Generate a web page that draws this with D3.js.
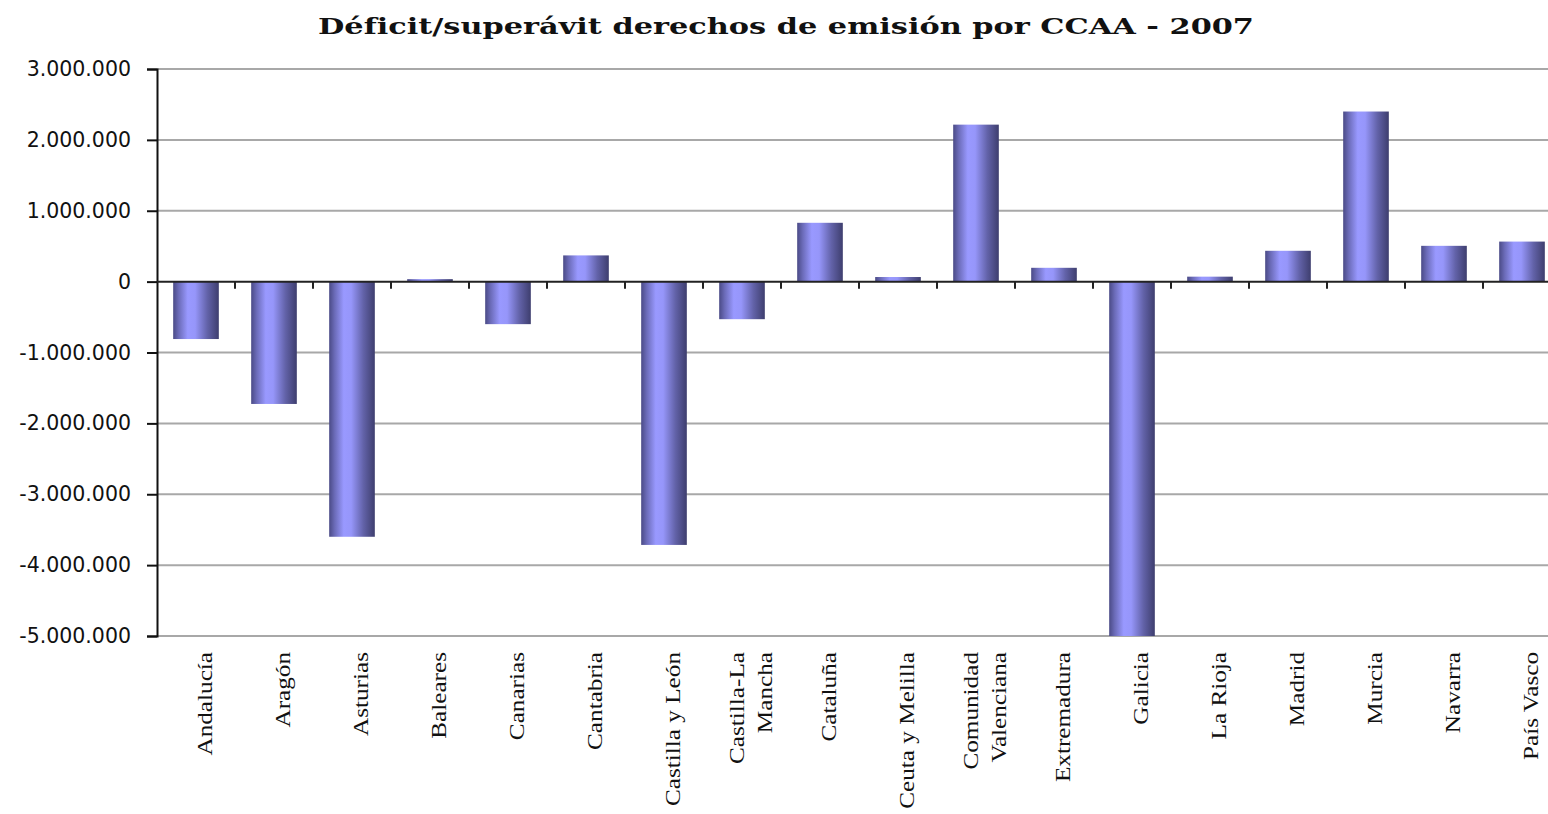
<!DOCTYPE html>
<html lang="es">
<head>
<meta charset="UTF-8">
<title>Déficit/superávit derechos de emisión por CCAA - 2007</title>
<style>
  body { margin: 0; background: #fff; }
  svg { display: block; }
</style>
</head>
<body>
<script src="https://d3js.org/d3.v7.min.js"></script>
<script>

    // categories (CCAA), "\n" splits a label into two lines
    var regions = [
        "Andalucía", "Aragón", "Asturias", "Baleares", "Canarias", "Cantabria",
        "Castilla y León", "Castilla-La\nMancha", "Cataluña", "Ceuta y Melilla",
        "Comunidad\nValenciana", "Extremadura", "Galicia", "La Rioja", "Madrid",
        "Murcia", "Navarra", "País Vasco"
    ];

    // deficit (-) / surplus (+) of emission rights, tonnes
    var balance = [
        -810000, -1726000, -3600000, 35000, -600000, 370000,
        -3715000, -530000, 830000, 65000,
        2215000, 195000, -5000000, 70000, 435000,
        2400000, 505000, 565000
    ];

    var yTicks = [3000000, 2000000, 1000000, 0, -1000000, -2000000, -3000000, -4000000, -5000000];

    var title = "Déficit/superávit derechos de emisión por CCAA - 2007";

    var W = 1548,
        H = 814,
        plotLeft = 157,
        step = 78,
        plotTop = 69,
        plotBottom = 636,
        labelTop = 652;

    var es = d3.formatLocale({
        decimal: ",", thousands: ".", grouping: [3], currency: ["", " €"], minus: "-"
    });
    var fmt = es.format(",d");

    var svg = d3.select("body")
        .append("svg")
        .attr("width", W)
        .attr("height", H);

    // bar gradient (dark edges, light middle)
    var grad = svg.append("defs").append("linearGradient")
        .attr("id", "barGrad")
        .attr("x1", "0").attr("x2", "1").attr("y1", "0").attr("y2", "0");
    [["0%", "#4a4a86"], ["12%", "#6b6bb8"], ["32%", "#9999ff"], ["48%", "#9696fa"],
     ["75%", "#6262a8"], ["100%", "#3e3e6e"]].forEach(function (s) {
        grad.append("stop").attr("offset", s[0]).attr("stop-color", s[1]);
    });

    var x = d3.scaleBand()
        .domain(regions)
        .range([plotLeft, plotLeft + step * regions.length])
        .paddingInner(0.415)
        .paddingOuter(0.2075);

    var y = d3.scaleLinear()
        .domain([-5000000, 3000000])
        .range([plotBottom, plotTop]);

    // title
    svg.append("text")
        .attr("x", 786)
        .attr("y", 34)
        .attr("text-anchor", "middle")
        .attr("font-family", "DejaVu Serif")
        .attr("font-weight", "bold")
        .attr("font-size", "23px")
        .attr("textLength", 936)
        .attr("lengthAdjust", "spacingAndGlyphs")
        .attr("fill", "#111")
        .text(title);

    // gridlines
    svg.append("g").selectAll("line")
        .data(yTicks.filter(function (d) { return d !== 0; }))
        .enter()
        .append("line")
        .attr("x1", plotLeft)
        .attr("x2", W)
        .attr("y1", function (d) { return y(d); })
        .attr("y2", function (d) { return y(d); })
        .attr("stroke", "#a8a8a8")
        .attr("stroke-width", 2);

    // bars
    svg.append("g").selectAll("rect")
        .data(regions)
        .enter()
        .append("rect")
        .attr("x", function (d) { return x(d); })
        .attr("width", x.bandwidth())
        .attr("y", function (d, i) { return y(Math.max(0, balance[i])); })
        .attr("height", function (d, i) { return Math.abs(y(balance[i]) - y(0)); })
        .attr("fill", "url(#barGrad)");

    // y axis
    var yAxis = d3.axisLeft(y)
        .tickValues(yTicks)
        .tickSize(10)
        .tickPadding(16)
        .tickFormat(fmt);

    var gy = svg.append("g")
        .attr("transform", "translate(" + plotLeft + ",0)")
        .call(yAxis);
    gy.select(".domain").attr("stroke", "#111").attr("stroke-width", 2);
    gy.selectAll(".tick line").attr("stroke", "#111").attr("stroke-width", 2);
    gy.selectAll(".tick text")
        .attr("font-family", "DejaVu Sans")
        .attr("font-size", "20.5px")
        .attr("fill", "#111");

    // zero line with category ticks
    var boundaries = d3.range(1, regions.length + 1).map(function (i) { return plotLeft + step * i; });
    svg.append("line")
        .attr("x1", plotLeft).attr("x2", W)
        .attr("y1", y(0)).attr("y2", y(0))
        .attr("stroke", "#222").attr("stroke-width", 2);
    svg.append("g").selectAll("line")
        .data(boundaries)
        .enter()
        .append("line")
        .attr("x1", function (d) { return d; })
        .attr("x2", function (d) { return d; })
        .attr("y1", y(0))
        .attr("y2", y(0) + 7)
        .attr("stroke", "#222")
        .attr("stroke-width", 2);

    // category labels, rotated
    var labels = svg.append("g").selectAll("text")
        .data(regions)
        .enter()
        .append("text")
        .attr("text-anchor", "end")
        .attr("font-family", "Liberation Serif")
        .attr("font-size", "21px")
        .attr("fill", "#111")
        .attr("transform", function (d) {
            var n = d.split("\n").length;
            var cx = x(d) + x.bandwidth() / 2 + 16 - (n - 1) * 14.5;
            return "translate(" + cx + "," + labelTop + ") rotate(-90) scale(1.2,1)";
        });

    labels.selectAll("tspan")
        .data(function (d) { return d.split("\n"); })
        .enter()
        .append("tspan")
        .attr("x", 0)
        .attr("y", function (d, i) { return i * 29; })
        .text(function (d) { return d; });

</script>
</body>
</html>
